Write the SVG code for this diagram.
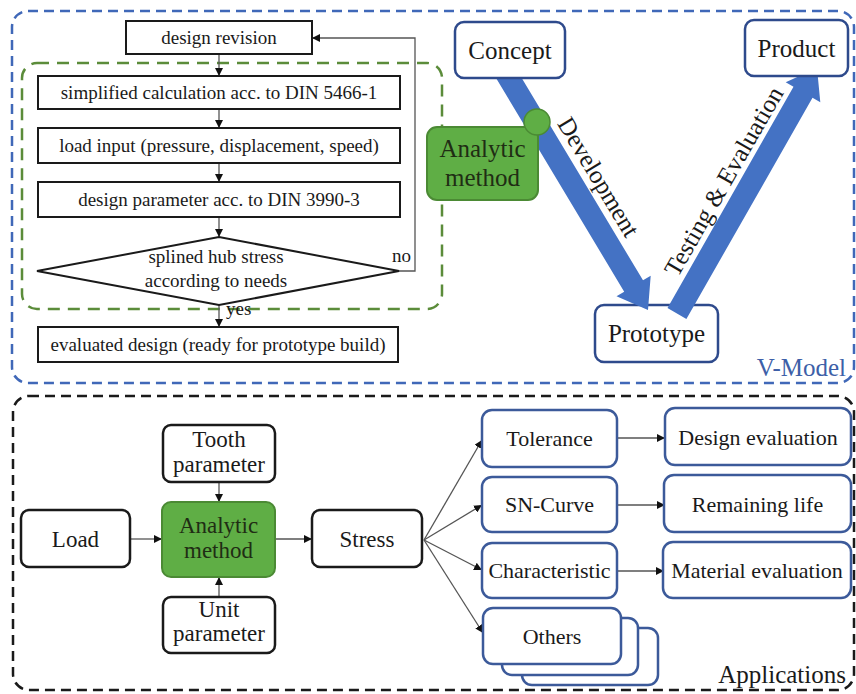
<svg xmlns="http://www.w3.org/2000/svg" width="856" height="694" viewBox="0 0 856 694">
<style>
text{font-family:Liberation Serif,Tinos,Noto Serif,DejaVu Serif,FreeSerif,Times,serif}
.t{fill:#1a1a1a;text-anchor:middle}
.f19{font-size:19px}
.f22{font-size:22px}
.f23{font-size:23px}
.f25{font-size:25px}
.fc{fill:#fff;stroke:#1a1a1a;stroke-width:2}
.bk{fill:#fff;stroke:#1a1a1a;stroke-width:2.5}
.vb{fill:#fff;stroke:#2e4a8c;stroke-width:2.5}
.ab{fill:#fff;stroke:#3c5a9a;stroke-width:2.5}
.gr{fill:#5fae45;stroke:#4b8a34;stroke-width:2}
.ln{fill:none;stroke:#555;stroke-width:1.3}
.band{fill:#4472c4}
</style>
<defs>
<marker id="ah" viewBox="0 0 10 10" refX="10" refY="5" markerWidth="8" markerHeight="8" markerUnits="userSpaceOnUse" orient="auto">
<path d="M0,0 L10,5 L0,10 Z" fill="#111"/>
</marker>
</defs>

<!-- frames -->
<g id="frames">
<rect x="12" y="11" width="842" height="372" rx="16" fill="none" stroke="#4068b8" stroke-width="2.5" stroke-dasharray="10 6"/>
<rect x="22" y="63" width="420" height="246" rx="15" fill="none" stroke="#5b8c3a" stroke-width="2.5" stroke-dasharray="12 8"/>
<rect x="13" y="396" width="841" height="294" rx="16" fill="none" stroke="#1a1a1a" stroke-width="2.5" stroke-dasharray="10 6"/>
<text class="t f25" x="846" y="376" style="text-anchor:end;fill:#3d5fa8">V-Model</text>
<text class="t f25" x="846" y="683" style="text-anchor:end">Applications</text>
</g>

<!-- connectors -->
<g id="connectors">
<line class="ln" x1="219" y1="54" x2="219" y2="76" marker-end="url(#ah)"/>
<line class="ln" x1="219" y1="109" x2="219" y2="128" marker-end="url(#ah)"/>
<line class="ln" x1="219" y1="163" x2="219" y2="182" marker-end="url(#ah)"/>
<line class="ln" x1="219" y1="217" x2="219" y2="237" marker-end="url(#ah)"/>
<line class="ln" x1="219" y1="305" x2="219" y2="327" marker-end="url(#ah)"/>
<polyline class="ln" points="399,271 415,271 415,38 312,38" marker-end="url(#ah)"/>
<text class="t f19" x="392" y="262" style="text-anchor:start">no</text>
<text class="t f19" x="226" y="315" style="text-anchor:start">yes</text>

<line class="ln" x1="130" y1="539" x2="162" y2="539" marker-end="url(#ah)"/>
<line class="ln" x1="275" y1="539" x2="312" y2="539" marker-end="url(#ah)"/>
<line class="ln" x1="219" y1="482" x2="219" y2="502" marker-end="url(#ah)"/>
<line class="ln" x1="219" y1="597" x2="219" y2="577" marker-end="url(#ah)"/>
<line class="ln" x1="424" y1="540" x2="482" y2="440" marker-end="url(#ah)"/>
<line class="ln" x1="424" y1="540" x2="482" y2="505" marker-end="url(#ah)"/>
<line class="ln" x1="424" y1="540" x2="482" y2="570" marker-end="url(#ah)"/>
<line class="ln" x1="424" y1="540" x2="483" y2="633" marker-end="url(#ah)"/>
<line class="ln" x1="617" y1="438" x2="665" y2="438" marker-end="url(#ah)"/>
<line class="ln" x1="617" y1="505" x2="665" y2="505" marker-end="url(#ah)"/>
<line class="ln" x1="617" y1="571" x2="664" y2="571" marker-end="url(#ah)"/>
</g>

<!-- flowchart nodes -->
<g id="n-revision"><rect class="fc" x="126" y="21" width="186" height="33"/><text class="t f19" x="219" y="44">design revision</text></g>
<g id="n-simplified"><rect class="fc" x="38" y="76" width="362" height="33"/><text class="t f19" x="219" y="99">simplified calculation acc. to DIN 5466-1</text></g>
<g id="n-load-input"><rect class="fc" x="38" y="128" width="362" height="35"/><text class="t f19" x="219" y="152">load input (pressure, displacement, speed)</text></g>
<g id="n-design-param"><rect class="fc" x="38" y="182" width="362" height="35"/><text class="t f19" x="219" y="206">design parameter acc. to DIN 3990-3</text></g>
<g id="n-decision"><polygon class="fc" points="37,271 219,237 399,271 219,305"/><text class="t f19" x="216" y="263">splined hub stress</text><text class="t f19" x="216" y="287">according to needs</text></g>
<g id="n-evaluated"><rect class="fc" x="38" y="327" width="360" height="35"/><text class="t f19" x="218" y="351">evaluated design (ready for prototype build)</text></g>

<!-- V-model -->
<g id="n-prototype"><rect class="vb" x="595" y="305" width="123" height="57" rx="9"/><text class="t f25" x="656.5" y="342">Prototype</text></g>
<g id="v-arrows">
<polygon class="band" points="508.2,55.6 643.0,280.3 650.7,275.7 648,310 616.5,296.3 624.2,291.7 489.4,67.0"/>
<polygon class="band" points="667.5,308 793.5,86.8 785.7,82.3 817,68 820.3,102.3 812.5,97.8 686.4,319"/>
<text class="t f25" transform="translate(591.4,181.3) rotate(59.04)">Development</text>
<text class="t f25" transform="translate(731,185.4) rotate(-60.1)">Testing &amp; Evaluation</text>
</g>
<g id="n-concept"><rect class="vb" x="455" y="22" width="110" height="56" rx="9"/><text class="t f25" x="510" y="59">Concept</text></g>
<g id="n-product"><rect class="vb" x="745" y="20" width="103" height="56" rx="9"/><text class="t f25" x="796.5" y="57">Product</text></g>
<g id="n-analytic-top"><rect class="gr" x="427" y="127" width="111" height="73" rx="10"/><circle cx="537" cy="122" r="13" fill="#5fae45" stroke="#4b8a34" stroke-width="1.5"/><text class="t f25" x="482.5" y="157" style="fill:#1f2d14">Analytic</text><text class="t f25" x="482.5" y="186" style="fill:#1f2d14">method</text></g>

<!-- applications -->
<g id="n-tooth"><rect class="bk" x="163" y="425" width="112" height="57" rx="8"/><text class="t f23" x="219" y="447">Tooth</text><text class="t f23" x="219" y="472">parameter</text></g>
<g id="n-load"><rect class="bk" x="21" y="510" width="109" height="57" rx="8"/><text class="t f23" x="75.5" y="547">Load</text></g>
<g id="n-analytic"><rect class="gr" x="162" y="502" width="113" height="75" rx="9"/><text class="t f23" x="218.5" y="533" style="fill:#1f2d14">Analytic</text><text class="t f23" x="218.5" y="558" style="fill:#1f2d14">method</text></g>
<g id="n-unit"><rect class="bk" x="163" y="597" width="112" height="56" rx="8"/><text class="t f23" x="219" y="617">Unit</text><text class="t f23" x="219" y="641">parameter</text></g>
<g id="n-stress"><rect class="bk" x="312" y="510" width="110" height="57" rx="8"/><text class="t f23" x="367" y="547">Stress</text></g>
<g id="n-tolerance"><rect class="ab" x="482" y="410" width="135" height="57" rx="10"/><text class="t f22" x="549.5" y="446">Tolerance</text></g>
<g id="n-sn"><rect class="ab" x="482" y="477" width="135" height="55" rx="10"/><text class="t f22" x="549.5" y="512">SN-Curve</text></g>
<g id="n-char"><rect class="ab" x="482" y="543" width="135" height="55" rx="10"/><text class="t f22" x="549.5" y="578">Characteristic</text></g>
<g id="n-others"><rect class="ab" x="522" y="628" width="136" height="57" rx="10"/><rect class="ab" x="502" y="618" width="136" height="57" rx="10"/><rect class="ab" x="483" y="608" width="138" height="56" rx="10"/><text class="t f22" x="552" y="644">Others</text></g>
<g id="n-design-eval"><rect class="ab" x="665" y="408" width="186" height="57" rx="10"/><text class="t f22" x="758" y="445">Design evaluation</text></g>
<g id="n-remaining"><rect class="ab" x="664" y="475" width="187" height="57" rx="10"/><text class="t f22" x="757.5" y="512">Remaining life</text></g>
<g id="n-material"><rect class="ab" x="663" y="542" width="188" height="56" rx="10"/><text class="t f22" x="757" y="578">Material evaluation</text></g>
</svg>
